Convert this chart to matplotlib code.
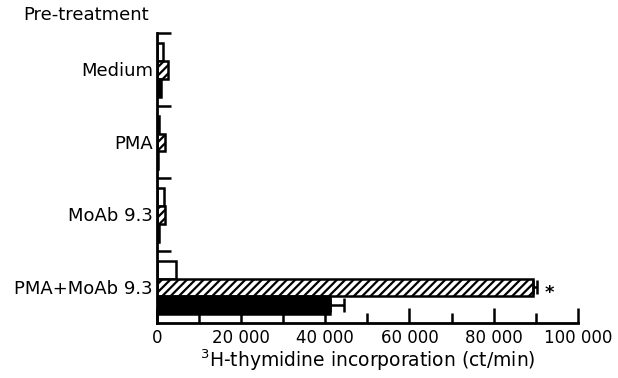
import matplotlib
matplotlib.use('Agg')
import matplotlib.pyplot as plt
import numpy as np

# pre-treatment groups, top to bottom
groups = ['Medium', 'PMA', 'MoAb 9.3', 'PMA+MoAb 9.3']

# 3H-thymidine incorporation (ct/min) per culture condition
open_vals = [1400, 500, 1600, 4500]
hatched_vals = [2600, 1900, 2000, 89300]
solid_vals = [900, 300, 600, 41000]
hatched_err = [0, 0, 0, 1000]
solid_err = [0, 0, 0, 3500]

xticks = [0, 20000, 40000, 60000, 80000, 100000]
xticklabels = ['0', '20 000', '40 000', '60 000', '80 000', '100 000']

plt.rcParams['font.family'] = ['DejaVu Sans']
plt.rcParams['hatch.linewidth'] = 1.6

fig = plt.figure(figsize=(6.18, 3.78), dpi=100)
ax = fig.add_axes([0.254, 0.1455, 0.681, 0.767])

pos = np.arange(len(groups))
h = 0.245
lw = 1.8

ax.barh(pos + 0.265, open_vals, height=h, color='white', edgecolor='black', linewidth=lw)
ax.barh(pos + 0.51, hatched_vals, height=h, color='white', edgecolor='black',
        linewidth=lw, hatch='////')
ax.barh(pos + 0.755, solid_vals, height=h, color='black', edgecolor='black', linewidth=lw)

# one-sided error bars
for i in range(len(groups)):
    if hatched_err[i] > 0:
        ax.errorbar(hatched_vals[i], pos[i] + 0.51, xerr=[[0], [hatched_err[i]]],
                    fmt='none', ecolor='black', elinewidth=1.8, capsize=5, capthick=1.8)
    if solid_err[i] > 0:
        ax.errorbar(solid_vals[i], pos[i] + 0.755, xerr=[[0], [solid_err[i]]],
                    fmt='none', ecolor='black', elinewidth=1.8, capsize=5, capthick=1.8)

ax.text(hatched_vals[3] + hatched_err[3] + 1800, pos[3] + 0.58, '*',
        fontsize=13, fontweight='bold', va='center', ha='left')

ax.set_xlim(0, 100000)
ax.set_ylim(4, 0)

ax.set_xticks(xticks)
ax.set_xticklabels(xticklabels, fontsize=12)
ax.set_xticks(np.arange(10000, 100000, 20000), minor=True)
ax.tick_params(axis='x', which='major', direction='in', length=11, width=1.8, pad=4)
ax.tick_params(axis='x', which='minor', direction='in', length=7, width=1.8)

ax.set_yticks(pos + 0.5)
ax.set_yticklabels(groups, fontsize=13)
ax.set_yticks(pos, minor=True)
ax.tick_params(axis='y', which='major', length=0, pad=3)
ax.tick_params(axis='y', which='minor', direction='in', length=10, width=1.8)

for s in ['top', 'right']:
    ax.spines[s].set_visible(False)
for s in ['left', 'bottom']:
    ax.spines[s].set_linewidth(2)

ax.set_xlabel('$^3$H-thymidine incorporation (ct/min)', fontsize=13.5, labelpad=1)
fig.text(0.037, 0.96, 'Pre-treatment', fontsize=13, ha='left', va='center')

fig.savefig('out.png', dpi=100)
